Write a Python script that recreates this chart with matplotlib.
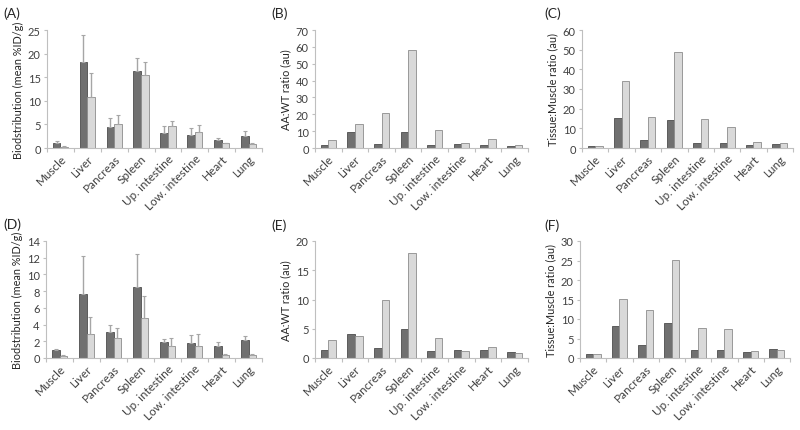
import numpy as np
import matplotlib.pyplot as plt

plt.rcParams['font.family'] = ['Lato', 'DejaVu Sans']

organs = ['Muscle', 'Liver', 'Pancreas', 'Spleen', 'Up. intestine',
          'Low. intestine', 'Heart', 'Lung']

# (A) biodistribution, top row
a_dark = [1.1, 18.3, 4.5, 16.4, 3.1, 2.7, 1.6, 2.5]
a_dark_err = [0.3, 5.6, 1.8, 2.7, 1.5, 1.5, 0.5, 1.1]
a_light = [0.3, 10.7, 5.0, 15.4, 4.6, 3.3, 1.0, 0.9]
a_light_err = [0.1, 5.1, 1.9, 2.9, 1.2, 1.6, 0.1, 0.1]

# (B) AA:WT ratio
b_dark = [1.8, 9.7, 2.5, 9.4, 2.0, 2.3, 1.5, 1.2]
b_light = [4.9, 14.0, 21.0, 58.0, 10.9, 2.8, 5.2, 1.7]

# (C) tissue:muscle ratio
c_dark = [1.0, 15.5, 3.9, 14.0, 2.7, 2.3, 1.4, 2.2]
c_light = [1.0, 34.0, 15.9, 49.0, 14.9, 10.5, 3.1, 2.7]

# (D) biodistribution, bottom row
d_dark = [0.9, 7.65, 3.15, 8.55, 1.95, 1.85, 1.45, 2.1]
d_dark_err = [0.15, 4.6, 0.75, 3.85, 0.3, 0.95, 0.45, 0.5]
d_light = [0.2, 2.9, 2.35, 4.75, 1.45, 1.42, 0.38, 0.4]
d_light_err = [0.1, 2.0, 1.2, 2.65, 0.95, 1.43, 0.12, 0.05]

# (E) AA:WT ratio
e_dark = [1.45, 4.05, 1.75, 4.9, 1.2, 1.4, 1.35, 1.05]
e_light = [3.0, 3.75, 9.85, 17.9, 3.4, 1.2, 1.9, 0.8]

# (F) tissue:muscle ratio
f_dark = [1.0, 8.2, 3.4, 9.1, 2.1, 2.0, 1.5, 2.2]
f_light = [1.0, 15.2, 12.3, 25.2, 7.7, 7.5, 1.8, 2.1]

panels = [
    ('(A)', 'Biodstribution (mean %ID/g)', a_dark, a_light, a_dark_err, a_light_err, 25, 5),
    ('(B)', 'AA:WT ratio (au)', b_dark, b_light, None, None, 70, 10),
    ('(C)', 'Tissue:Muscle ratio (au)', c_dark, c_light, None, None, 60, 10),
    ('(D)', 'Biodstribution (mean %ID/g)', d_dark, d_light, d_dark_err, d_light_err, 14, 2),
    ('(E)', 'AA:WT ratio (au)', e_dark, e_light, None, None, 20, 5),
    ('(F)', 'Tissue:Muscle ratio (au)', f_dark, f_light, None, None, 30, 5),
]

# axes boxes in pixels: left, right, top, bottom
boxes = [(47, 262, 31, 149), (315, 528, 31, 149), (582, 793, 31, 149),
         (46, 262, 242, 359), (315, 528, 242, 359), (580, 790, 242, 359)]
# panel letter positions (left, top) in pixels
letters = [(3, 7), (271, 7), (544, 7), (3, 218), (271, 219), (544, 219)]

W, H = 800, 431
fig = plt.figure(figsize=(8, 4.31), dpi=100)

x = np.arange(len(organs)) + 0.5
bw = 0.285
dark_col = '#707070'
light_col = '#d9d9d9'
spine_col = '#bfbfbf'
err_col = '#a6a6a6'
txt_col = '#404040'

for (lab, ylab, dk, lt, dk_err, lt_err, ymax, step), (l, r, t, b), (lx, ly) in zip(panels, boxes, letters):
    ax = fig.add_axes([l / W, (H - b) / H, (r - l) / W, (b - t) / H])
    ekw = dict(ecolor=err_col, elinewidth=1, capsize=1.5, capthick=0.8)
    if dk_err is not None:
        ax.bar(x - bw / 2, dk, bw, color=dark_col, edgecolor='#4d4d4d', linewidth=0.6,
               yerr=[np.zeros(len(dk)), dk_err], error_kw=ekw, zorder=2)
        ax.bar(x + bw / 2, lt, bw, color=light_col, edgecolor='#8c8c8c', linewidth=0.6,
               yerr=[np.zeros(len(lt)), lt_err], error_kw=ekw, zorder=2)
    else:
        ax.bar(x - bw / 2, dk, bw, color=dark_col, edgecolor='#4d4d4d', linewidth=0.6, zorder=2)
        ax.bar(x + bw / 2, lt, bw, color=light_col, edgecolor='#8c8c8c', linewidth=0.6, zorder=2)
    ax.set_xlim(0, len(organs))
    ax.set_ylim(0, ymax)
    ax.set_yticks(np.arange(0, ymax + 0.01, step))
    ax.tick_params(axis='y', labelsize=8, length=2.5, color=spine_col, pad=2, labelcolor=txt_col)
    ax.set_xticks(np.arange(0, len(organs) + 1), minor=False)
    ax.set_xticklabels([])
    ax.set_xticks(x, minor=True)
    ax.set_xticklabels(organs, minor=True, rotation=45, ha='right', rotation_mode='anchor',
                       fontsize=8.5, color=txt_col)
    ax.tick_params(axis='x', which='major', length=3, color=spine_col)
    ax.tick_params(axis='x', which='minor', length=0, pad=3)
    for s in ['top', 'right']:
        ax.spines[s].set_visible(False)
    for s in ['left', 'bottom']:
        ax.spines[s].set_color(spine_col)
        ax.spines[s].set_linewidth(0.8)
    ax.set_ylabel(ylab, fontsize=7.8, color='#262626', labelpad=3)
    fig.text(lx / W, (H - ly) / H, lab, fontsize=10, color='#262626', va='top', ha='left')

fig.savefig('out.png', dpi=100)
